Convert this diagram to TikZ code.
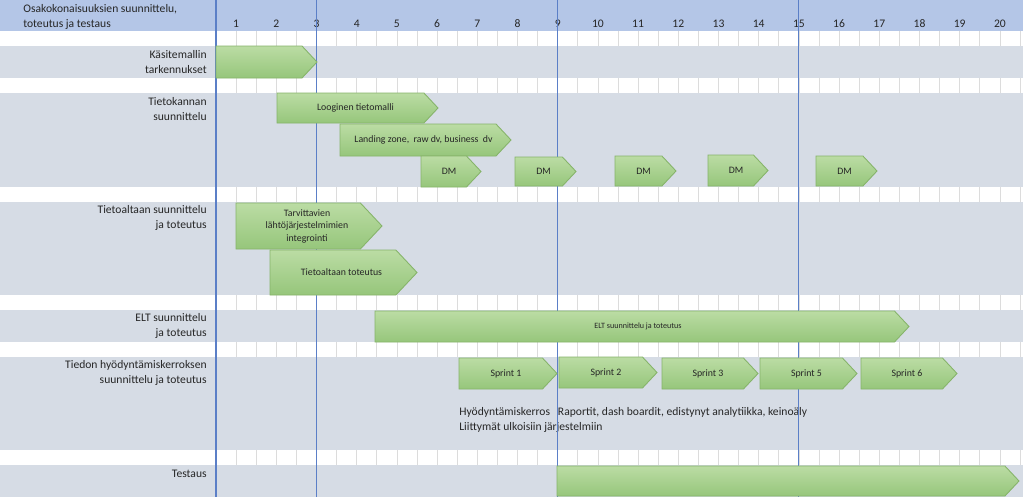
\documentclass[tikz,border=0pt]{standalone}
\usepackage{fontspec}
\setmainfont{Carlito}
\usetikzlibrary{positioning}
\definecolor{hdrblue} {HTML}{B4C6E7}
\definecolor{rowgray} {HTML}{D6DCE5}
\definecolor{gridgray}{HTML}{DCDCDC}
\definecolor{lineblue}{HTML}{5B7FC7}
\definecolor{bartop}  {HTML}{BBDCA4}
\definecolor{barbot}  {HTML}{96C67B}
\definecolor{baredge} {HTML}{86B46A}

% name, x start, x end, y top, y bottom, text
\newcommand{\ganttbar}[6]{%
  \pgfmathsetmacro\gbH{#5-#4}%
  \pgfmathsetmacro\gbTip{#3-0.47*\gbH}%
  \pgfmathsetmacro\gbMy{(#4+#5)/2}%
  \pgfmathsetmacro\gbMx{(#2+#3)/2-2}%
  \path[bar] (#2,#4) -- (\gbTip,#4) -- (#3,\gbMy) -- (\gbTip,#5) -- (#2,#5) -- cycle;
  \node[bartxt] (#1) at (\gbMx,\gbMy) {#6};%
}

\begin{document}
\begin{tikzpicture}[
  x=0.02cm, y=-0.02cm,
  every node/.style={font=\fontsize{6.6}{8.5}\selectfont, inner sep=0pt, text=black!85},
  lab/.style={anchor=east, align=right},
  bar/.style={top color=bartop, bottom color=barbot, draw=baredge, line width=0.5pt},
  bartxt/.style={font=\fontsize{5.6}{7.1}\selectfont, align=center},
  vline/.style={draw=lineblue, line width=0.6pt},
]
\useasboundingbox (0,0) rectangle (1023,497);

% rows
\fill[white] (0,0) rectangle (1023,497);
\fill[hdrblue] (0,0) rectangle (1023,31);
\foreach \ya/\yb in {46/78, 93/187, 202/295, 310/342, 357/450, 465/497}
  \fill[rowgray] (0,\ya) rectangle (1023,\yb);
\foreach \ya/\yb in {31/46, 78/93, 187/202, 295/310, 342/357, 450/465}
  \foreach \c in {1,...,40}
    \draw[gridgray, line width=0.4pt] ({216+20.1*\c},\ya) -- ({216+20.1*\c},\yb);

% header
\node[anchor=west, align=left] (hdr) at (23,17)
  {Osakokonaisuuksien suunnittelu,\\toteutus ja testaus};
\foreach \k in {1,...,20}
  \node (w\k) at ({216+20.1*(2*\k-1)},24) {\k};

% row labels
\node[lab] (l1) at (207,62)    {Käsitemallin\\tarkennukset};
\node[lab] (l2) at (207,109)   {Tietokannan\\suunnittelu};
\node[lab] (l3) at (207,218)   {Tietoaltaan suunnittelu\\ja toteutus};
\node[lab] (l4) at (207,326)   {ELT suunnittelu\\ja toteutus};
\node[lab] (l5) at (207,372.5) {Tiedon hyödyntämiskerroksen\\suunnittelu ja toteutus};
\node[lab] (l6) at (207,474)   {Testaus};

\node[anchor=west, align=left] (note) at (459,419.5)
  {Hyödyntämiskerros\ \ \ Raportit, dash boardit, edistynyt analytiikka, keinoäly\\
   Liittymät ulkoisiin järjestelmiin};

% week markers
\foreach \x in {216, 316.5, 557.7, 798.9}
  \draw[vline] (\x,0) -- (\x,497);

% bars
\ganttbar{kt}{216}{317}{46}{78}{}
\ganttbar{lt}{277}{438}{93}{123}{Looginen tietomalli}
\ganttbar{lz}{340}{511}{124}{156}{Landing zone,\ \ raw dv, business\ \ dv}
\ganttbar{dm1}{421}{481}{156}{187}{DM}
\ganttbar{dm2}{515}{576}{157}{186}{DM}
\ganttbar{dm3}{615}{676}{156}{186}{DM}
\ganttbar{dm4}{708}{768}{155}{186}{DM}
\ganttbar{dm5}{816}{877}{156}{186}{DM}
\ganttbar{tv}{236}{382}{203}{249}{Tarvittavien\\lähtöjärjestelmimien\\integrointi}
\ganttbar{ta}{270}{417}{250}{295}{Tietoaltaan toteutus}
\ganttbar{elt}{375}{909}{311}{342}{}
\node[font=\fontsize{4.6}{5.5}\selectfont] (elttxt) at (638,326) {ELT suunnittelu ja toteutus};
\ganttbar{s1}{459}{557}{358}{389}{Sprint 1}
\ganttbar{s2}{559}{657}{357}{388}{Sprint 2}
\ganttbar{s3}{662}{758}{358}{389}{Sprint 3}
\ganttbar{s5}{760}{857}{358}{389}{Sprint 5}
\ganttbar{s6}{861}{957}{358}{389}{Sprint 6}
\ganttbar{test}{557}{1019}{466}{496}{}
\end{tikzpicture}
\end{document}
